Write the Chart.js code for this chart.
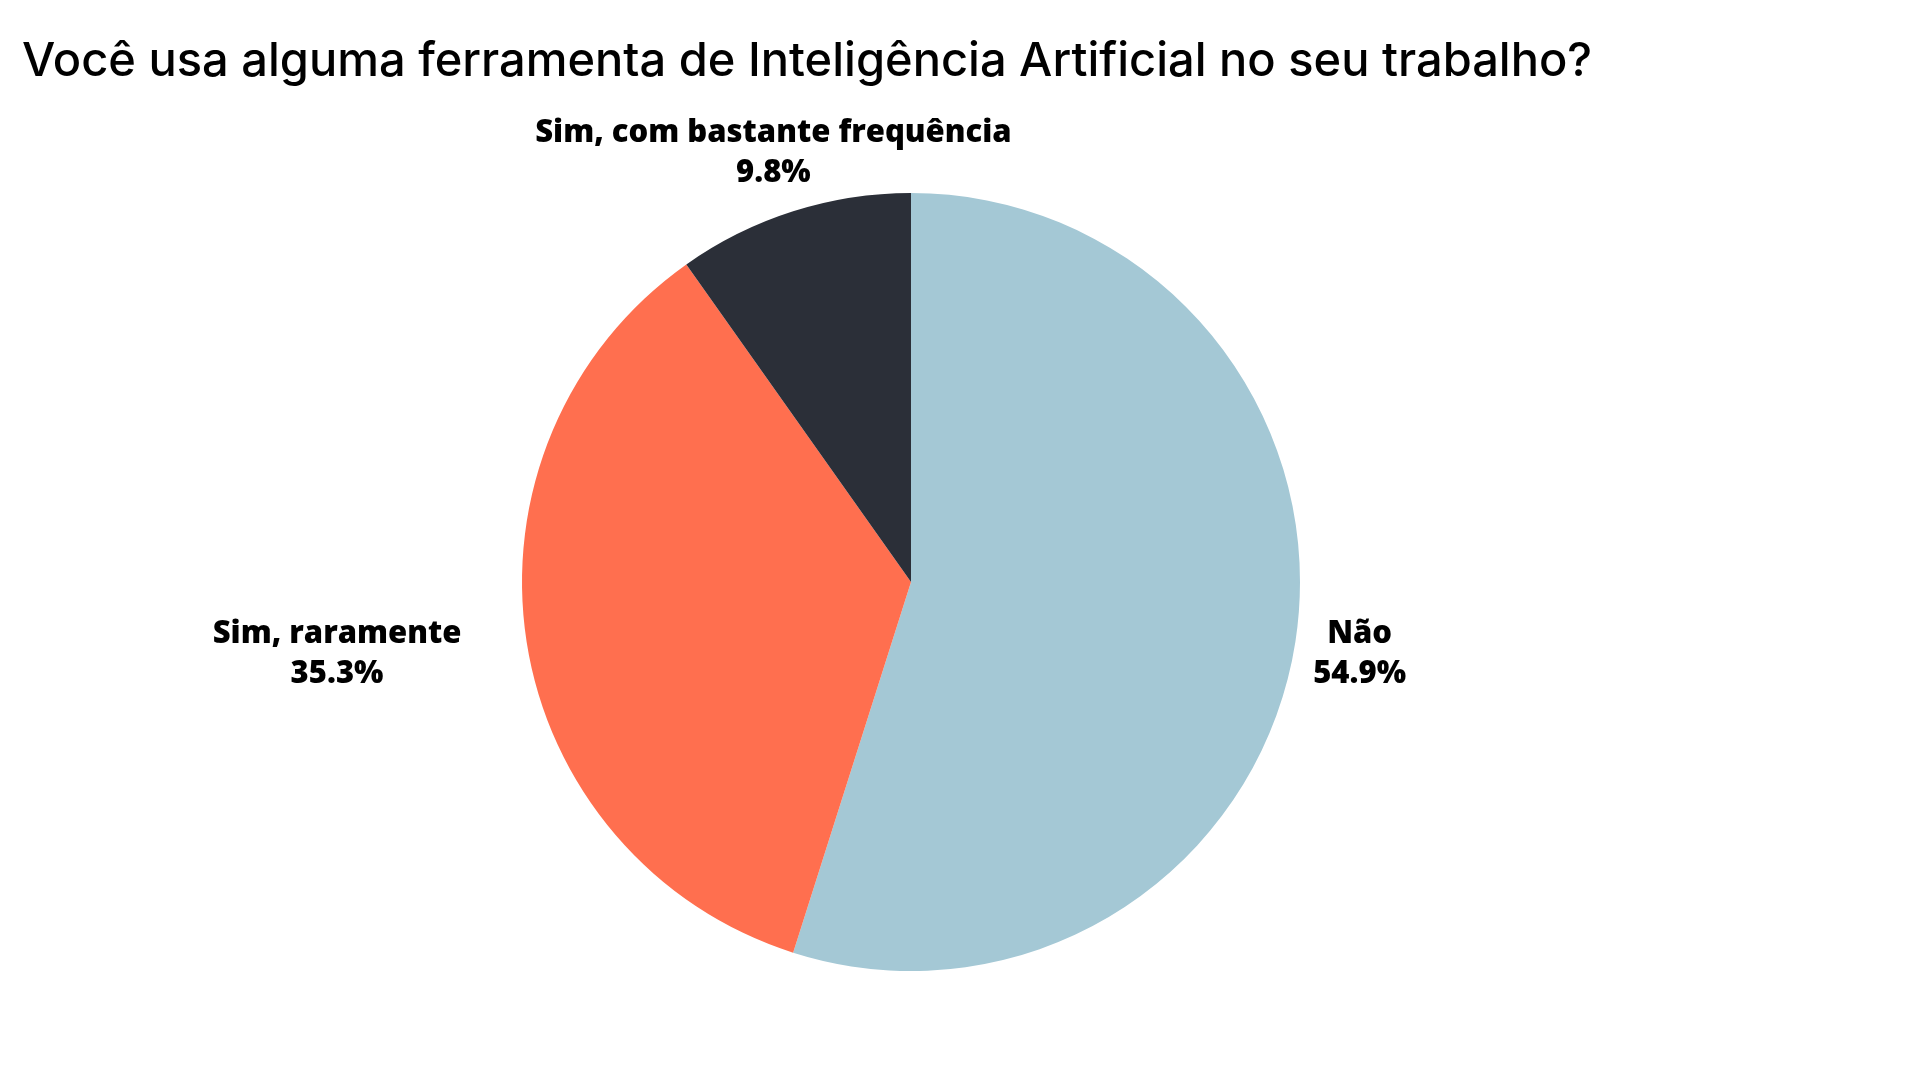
<!DOCTYPE html>
<html lang="pt-BR">
<head>
    <meta charset="UTF-8">
    <title>Uso de IA no trabalho</title>
    <script src="https://cdn.jsdelivr.net/npm/chart.js"></script>
    <style>
        html, body { margin: 0; padding: 0; background: #ffffff; }
        #wrap { width: 1920px; height: 1080px; position: relative; }
    </style>
</head>
<body>
    <div id="wrap"><canvas id="pieChart"></canvas></div>
    <script>
        const titulo = "Você usa alguma ferramenta de Inteligência Artificial no seu trabalho?";
        const categorias = ["Não", "Sim, raramente", "Sim, com bastante frequência"];
        const percentuais = [54.9, 35.3, 9.8];
        const cores = ["#a4c8d5", "#ff6f4f", "#2b2f38"];

        // labels outside each slice, placed from the arc geometry
        const outsideLabels = {
            id: "outsideLabels",
            afterDatasetsDraw(chart, args, opts) {
                const ctx = chart.ctx;
                const meta = chart.getDatasetMeta(0);
                ctx.save();
                ctx.font = opts.font;
                ctx.fillStyle = opts.color;
                ctx.textBaseline = "alphabetic";
                ctx.textAlign = "center";
                meta.data.forEach((arc, i) => {
                    const p = arc.getProps(["x", "y", "startAngle", "endAngle", "outerRadius"], true);
                    const mid = (p.startAngle + p.endAngle) / 2;
                    const cos = Math.cos(mid), sin = Math.sin(mid);
                    const ax = p.x + (p.outerRadius + opts.gap[i]) * cos;
                    const edgeY = p.y + p.outerRadius * sin;
                    const lines = [categorias[i], percentuais[i].toFixed(1) + "%"];
                    const w = Math.max(...lines.map(t => ctx.measureText(t).width));
                    let cx, b1;
                    if (Math.abs(cos) > 0.5) {
                        cx = cos > 0 ? ax + w / 2 : ax - w / 2;
                        b1 = edgeY + 1.5;
                    } else {
                        cx = ax;
                        b1 = sin < 0 ? edgeY - opts.vgap - opts.lineHeight : edgeY + opts.vgap + opts.capHeight;
                    }
                    lines.forEach((t, k) => ctx.fillText(t, cx, b1 + k * opts.lineHeight));
                });
                ctx.restore();
            }
        };

        new Chart(document.getElementById("pieChart"), {
            type: "pie",
            data: {
                labels: categorias,
                datasets: [{
                    data: percentuais,
                    backgroundColor: cores,
                    borderWidth: 0
                }]
            },
            options: {
                responsive: true,
                maintainAspectRatio: false,
                animation: false,
                layout: { padding: { left: 22, right: 120, top: 0, bottom: 109 } },
                plugins: {
                    legend: { display: false },
                    tooltip: { enabled: false },
                    title: {
                        display: true,
                        text: titulo,
                        align: "start",
                        color: "#000000",
                        font: { family: "Inter", size: 47, weight: "550", lineHeight: 1.2 },
                        padding: { top: 34, bottom: 102.6 }
                    },
                    outsideLabels: {
                        font: "800 31px 'Open Sans'",
                        color: "#000000",
                        lineHeight: 40,
                        capHeight: 22,
                        vgap: 29,
                        gap: [18, 66, 65]
                    }
                }
            },
            plugins: [outsideLabels]
        });
    </script>
</body>
</html>
